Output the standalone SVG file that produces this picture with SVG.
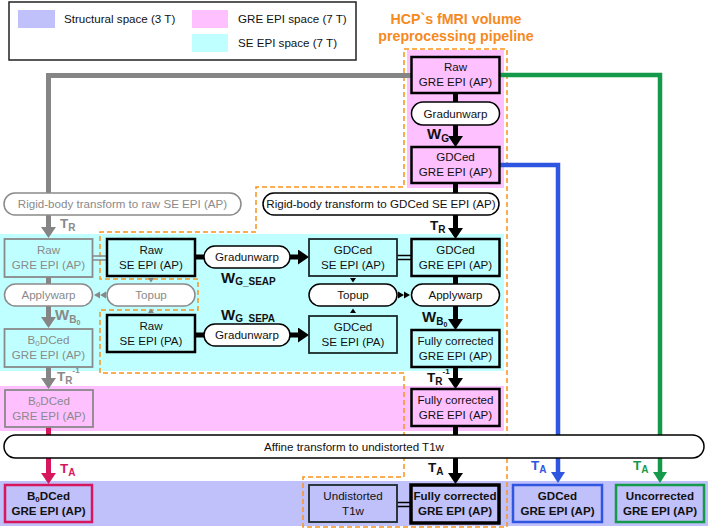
<svg xmlns="http://www.w3.org/2000/svg" width="709" height="530" viewBox="0 0 709 530">
<defs>
<style>
text{font-family:"Liberation Sans",Arial,sans-serif;font-size:11.6px;text-anchor:middle;fill:#111}
.lg{text-anchor:start;font-size:11.6px}
.bx{stroke:#000;stroke-width:2.5}
.bx2{stroke:#1a2a2a;stroke-width:1.8}
.pl{fill:#fff;stroke:#000;stroke-width:1.5}
.gpl{fill:#fff;stroke:#8a8a8a;stroke-width:1.5}
.gbx{stroke:#8a8a8a;stroke-width:1.8}
.gt{fill:#8a8a8a}
.cy{fill:#c0ffff}
.pk{fill:#ffc0ff}
.st{fill:#c0c0fa}
.k{stroke:#000;stroke-width:5;fill:none}
.g{stroke:#858585;stroke-width:5;fill:none}
.lb{font-weight:bold;text-anchor:start;font-size:13.5px}
.sb{font-size:10px}
.ttl{fill:#f58a1f;font-weight:bold;font-size:14.2px}
</style>
<marker id="ak" markerUnits="userSpaceOnUse" markerWidth="11" markerHeight="15" refX="6" refY="7.5" orient="auto"><path d="M0,0 L11,7.5 L0,15 z" fill="#000"/></marker>
<marker id="ag" markerUnits="userSpaceOnUse" markerWidth="11" markerHeight="15" refX="6" refY="7.5" orient="auto"><path d="M0,0 L11,7.5 L0,15 z" fill="#858585"/></marker>
<marker id="ar" markerUnits="userSpaceOnUse" markerWidth="11" markerHeight="15" refX="6" refY="7.5" orient="auto"><path d="M0,0 L11,7.5 L0,15 z" fill="#d6175e"/></marker>
<marker id="ab" markerUnits="userSpaceOnUse" markerWidth="11" markerHeight="14" refX="6" refY="7" orient="auto"><path d="M0,0 L11,7 L0,14 z" fill="#2e56e0"/></marker>
<marker id="an" markerUnits="userSpaceOnUse" markerWidth="11" markerHeight="14" refX="6" refY="7" orient="auto"><path d="M0,0 L11,7 L0,14 z" fill="#149a4a"/></marker>
</defs>

<g id="backgrounds">
<rect class="pk" x="407" y="50" width="97" height="138"/>
<rect class="cy" x="0" y="234" width="504" height="137"/>
<rect class="pk" x="0" y="386" width="504" height="45"/>
<rect class="st" x="0" y="481" width="708" height="45"/>
</g>

<g id="legend">
<rect x="9" y="2" width="347" height="58" fill="#fff" stroke="#222" stroke-width="1.5"/>
<rect class="st" x="18" y="10" width="37" height="18"/>
<text class="lg" x="64" y="22.5">Structural space (3 T)</text>
<rect class="pk" x="192" y="10" width="36" height="18"/>
<text class="lg" x="238" y="22.5">GRE EPI space (7 T)</text>
<rect class="cy" x="192" y="34" width="36" height="18"/>
<text class="lg" x="238" y="46.5">SE EPI space (7 T)</text>
</g>

<g id="pipeline-title">
<text class="ttl" x="456" y="24">HCP`s fMRI volume</text>
<text class="ttl" x="456" y="41">preprocessing pipeline</text>
<path d="M404,49 H507 V527 H303 V477 H404 V373 H100 V310 H198 V279 H100 V232 H256 V187 H404 Z" fill="none" stroke="#f7941d" stroke-width="1.5" stroke-dasharray="5,3"/>
</g>

<g id="connectors">
<path class="g" d="M411.5,75.5 H48.5 V193"/>
<path class="g" d="M48.5,215 V233" marker-end="url(#ag)"/>
<path class="g" d="M48.5,277 V284"/>
<path class="g" d="M48.5,306 V323" marker-end="url(#ag)"/>
<path class="g" d="M48.5,367 V384" marker-end="url(#ag)"/>
<path d="M48.5,427 V435" stroke="#d6175e" stroke-width="5"/>
<path d="M48.5,458 V479" stroke="#d6175e" stroke-width="5" marker-end="url(#ar)"/>
<path d="M499.5,75 H660 V478" stroke="#149a4a" stroke-width="4.5" fill="none" marker-end="url(#an)"/>
<path d="M499.5,165 H558 V478" stroke="#2e56e0" stroke-width="4.5" fill="none" marker-end="url(#ab)"/>
<path class="k" d="M455.5,93 V102"/>
<path class="k" d="M455.5,125 V142" marker-end="url(#ak)"/>
<path class="k" d="M455.5,183 V193"/>
<path class="k" d="M455.5,215 V234" marker-end="url(#ak)"/>
<path class="k" d="M455.5,276 V284"/>
<path class="k" d="M455.5,306 V325" marker-end="url(#ak)"/>
<path class="k" d="M455.5,367 V384" marker-end="url(#ak)"/>
<path class="k" d="M455.5,426 V435"/>
<path class="k" d="M455.5,458 V479" marker-end="url(#ak)"/>
<path class="k" d="M195,257 H204"/>
<path class="k" d="M290,257 H304" marker-end="url(#ak)"/>
<path class="k" d="M195,335 H204"/>
<path class="k" d="M290,335 H304" marker-end="url(#ak)"/>
<path d="M92,256 H107 M92,260 H107" stroke="#888" stroke-width="1.3"/>
<path d="M397,255.5 H412 M397,259.5 H412" stroke="#000" stroke-width="1.3"/>
<path d="M397,502.5 H411 M397,506.5 H411" stroke="#000" stroke-width="1.3"/>
<polygon points="350,278 356,278 353,282.5" fill="#000"/>
<polygon points="350,313 356,313 353,308.5" fill="#000"/>
<polygon points="148,278 154,278 151,282.5" fill="#888"/>
<polygon points="148,313 154,313 151,308.5" fill="#888"/>
<polygon points="398,291.5 398,298.5 404,295" fill="#000"/>
<polygon points="404,291.5 404,298.5 410,295" fill="#000"/>
<polygon points="106,291.5 106,298.5 100,295" fill="#888"/>
<polygon points="100,291.5 100,298.5 94,295" fill="#888"/>
</g>

<g id="edge-labels">
<text class="lb" x="427" y="139" style="font-size:15px">W<tspan class="sb" dy="3">G</tspan></text>
<text class="lb" x="430" y="230">T<tspan class="sb" dy="3">R</tspan></text>
<text class="lb" x="422" y="322" style="font-size:15px">W<tspan class="sb" dy="3">B</tspan><tspan style="font-size:7px" dy="2">0</tspan></text>
<text class="lb" x="427" y="382">T<tspan class="sb" dy="3">R</tspan><tspan style="font-size:8px" dy="-11">-1</tspan></text>
<text class="lb" x="428" y="472">T<tspan class="sb" dy="3">A</tspan></text>
<text class="lb gt" x="60" y="228">T<tspan class="sb" dy="3">R</tspan></text>
<text class="lb gt" x="55" y="320" style="font-size:15px">W<tspan class="sb" dy="3">B</tspan><tspan style="font-size:7px" dy="2">0</tspan></text>
<text class="lb gt" x="57" y="381">T<tspan class="sb" dy="3">R</tspan><tspan style="font-size:8px" dy="-11">-1</tspan></text>
<text class="lb" x="60" y="473" style="fill:#d6175e">T<tspan class="sb" dy="3">A</tspan></text>
<text class="lb" x="531" y="470" style="fill:#2e56e0">T<tspan class="sb" dy="3">A</tspan></text>
<text class="lb" x="633" y="470" style="fill:#149a4a">T<tspan class="sb" dy="3">A</tspan></text>
<text class="lb" x="221" y="283" style="font-size:15px">W<tspan class="sb" dy="2">G_SEAP</tspan></text>
<text class="lb" x="221" y="320" style="font-size:15px">W<tspan class="sb" dy="2">G_SEPA</tspan></text>
</g>

<g id="raw-gre-ap"><rect class="pk bx" x="411.5" y="57" width="88" height="36"/><text x="455.5" y="71">Raw</text><text x="455.5" y="86">GRE EPI (AP)</text></g>
<g id="gradunwarp-gre"><rect class="pl" x="411.5" y="102" width="88" height="23" rx="11.5"/><text x="455.5" y="118">Gradunwarp</text></g>
<g id="gdced-gre-ap-pink"><rect class="pk bx" x="411.5" y="147" width="88" height="36"/><text x="455.5" y="161">GDCed</text><text x="455.5" y="176">GRE EPI (AP)</text></g>
<g id="rigid-gdced"><rect class="pl" x="263" y="193" width="236" height="22" rx="11"/><text x="381" y="208">Rigid-body transform to GDCed SE EPI (AP)</text></g>
<g id="gdced-gre-ap-cyan"><rect class="cy bx" x="411.5" y="239" width="88" height="37"/><text x="455.5" y="253.5">GDCed</text><text x="455.5" y="268.5">GRE EPI (AP)</text></g>
<g id="applywarp"><rect class="pl" x="411.5" y="284" width="88" height="22" rx="11"/><text x="455.5" y="299">Applywarp</text></g>
<g id="fully-corrected-cyan"><rect class="cy bx" x="411.5" y="330" width="88" height="37"/><text x="455.5" y="344.5">Fully corrected</text><text x="455.5" y="359.5">GRE EPI (AP)</text></g>
<g id="fully-corrected-pink"><rect class="pk bx" x="411.5" y="389" width="88" height="37"/><text x="455.5" y="403.5">Fully corrected</text><text x="455.5" y="418.5">GRE EPI (AP)</text></g>
<g id="affine"><rect class="pl" x="4" y="435" width="700" height="23" rx="11.5"/><text x="354" y="450.5">Affine transform to undistorted T1w</text></g>
<g id="fully-corrected-final"><rect class="st" x="411" y="485" width="88" height="38" stroke="#000" stroke-width="3.5"/><text x="455" y="500" font-weight="bold">Fully corrected</text><text x="455" y="515" font-weight="bold">GRE EPI (AP)</text></g>
<g id="undistorted-t1w"><rect class="st bx2" x="309" y="485" width="88" height="37"/><text x="353" y="499.5">Undistorted</text><text x="353" y="514.5">T1w</text></g>
<g id="gdced-final"><rect class="st" x="513" y="485" width="89" height="37" stroke="#2e56e0" stroke-width="2.5"/><text x="557.5" y="499.5" font-weight="bold" fill="#2e56e0">GDCed</text><text x="557.5" y="514.5" font-weight="bold" fill="#2e56e0">GRE EPI (AP)</text></g>
<g id="uncorrected-final"><rect class="st" x="616" y="485" width="88" height="37" stroke="#149a4a" stroke-width="2.5"/><text x="660" y="499.5" font-weight="bold" fill="#149a4a">Uncorrected</text><text x="660" y="514.5" font-weight="bold" fill="#149a4a">GRE EPI (AP)</text></g>
<g id="b0dced-final"><rect class="st" x="5" y="485" width="87" height="37" stroke="#d6175e" stroke-width="2.5"/><text x="48.5" y="499.5" font-weight="bold" fill="#d6175e">B<tspan font-size="8" dy="2">0</tspan><tspan dy="-2">DCed</tspan></text><text x="48.5" y="514.5" font-weight="bold" fill="#d6175e">GRE EPI (AP)</text></g>

<g id="rigid-raw"><rect class="gpl" x="4" y="193" width="237" height="22" rx="11"/><text class="gt" x="122.5" y="208">Rigid-body transform to raw SE EPI (AP)</text></g>
<g id="raw-gre-ap-gray"><rect class="cy gbx" x="4.5" y="239" width="88" height="38"/><text class="gt" x="48.5" y="254">Raw</text><text class="gt" x="48.5" y="269">GRE EPI (AP)</text></g>
<g id="applywarp-gray"><rect class="gpl" x="4.5" y="284" width="88" height="22" rx="11"/><text class="gt" x="48.5" y="299">Applywarp</text></g>
<g id="topup-gray"><rect class="gpl" x="107" y="284" width="88" height="22" rx="11"/><text class="gt" x="151" y="299">Topup</text></g>
<g id="b0dced-cyan-gray"><rect class="cy gbx" x="4.5" y="329" width="88" height="38"/><text class="gt" x="48.5" y="344">B<tspan font-size="8" dy="2">0</tspan><tspan dy="-2">DCed</tspan></text><text class="gt" x="48.5" y="359">GRE EPI (AP)</text></g>
<g id="b0dced-pink-gray"><rect class="pk gbx" x="5" y="390" width="88" height="37"/><text class="gt" x="49" y="404.5">B<tspan font-size="8" dy="2">0</tspan><tspan dy="-2">DCed</tspan></text><text class="gt" x="49" y="419.5">GRE EPI (AP)</text></g>

<g id="raw-se-ap"><rect class="cy bx" x="107" y="239" width="88" height="37"/><text x="151" y="253.5">Raw</text><text x="151" y="268.5">SE EPI (AP)</text></g>
<g id="gradunwarp-seap"><rect class="pl" x="204" y="246" width="86" height="22" rx="11"/><text x="247" y="261">Gradunwarp</text></g>
<g id="gdced-se-ap"><rect class="cy bx2" x="309" y="239" width="88" height="37"/><text x="353" y="253.5">GDCed</text><text x="353" y="268.5">SE EPI (AP)</text></g>
<g id="topup"><rect class="pl" x="309" y="284" width="88" height="22" rx="11"/><text x="353" y="299">Topup</text></g>
<g id="raw-se-pa"><rect class="cy bx" x="107" y="315" width="88" height="37"/><text x="151" y="329.5">Raw</text><text x="151" y="344.5">SE EPI (PA)</text></g>
<g id="gradunwarp-sepa"><rect class="pl" x="204" y="324" width="86" height="22" rx="11"/><text x="247" y="339">Gradunwarp</text></g>
<g id="gdced-se-pa"><rect class="cy bx2" x="309" y="316" width="88" height="37"/><text x="353" y="330.5">GDCed</text><text x="353" y="345.5">SE EPI (PA)</text></g>
</svg>
